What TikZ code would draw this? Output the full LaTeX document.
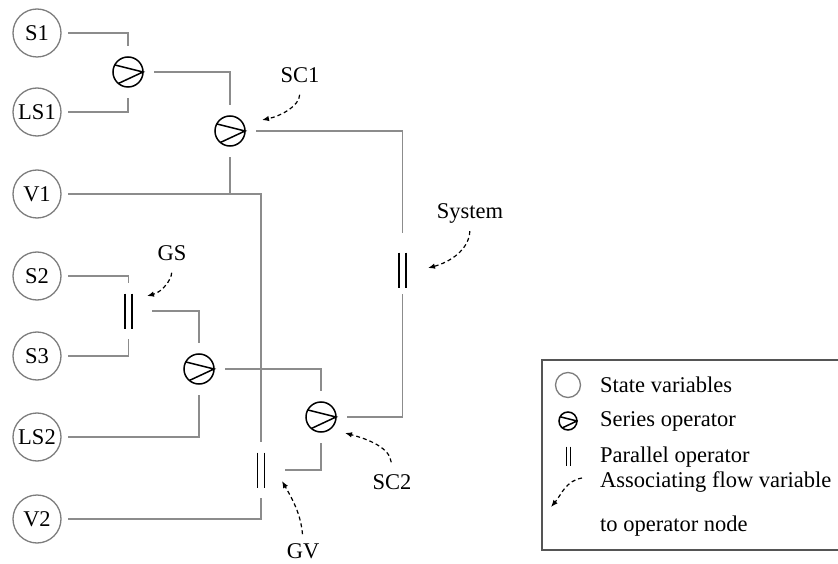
\documentclass[tikz,border=0pt]{standalone}
\usepackage{fontspec}
\setmainfont{Liberation Serif}
\usetikzlibrary{calc,arrows.meta}
\definecolor{conn}{RGB}{140,140,140}
\definecolor{stategray}{RGB}{125,125,125}
\definecolor{boxgray}{RGB}{85,85,85}
\newcommand\opchevron[1]{%
  \draw[opline] (path picture bounding box.center) circle[radius=#1];
  \draw[opline] ($(path picture bounding box.center)+(152:#1)$) -- ($(path picture bounding box.center)+(0:#1)$) -- ($(path picture bounding box.center)+(230:#1)$);}
\newcommand\opbars[2]{%
  \draw[barline] ($(path picture bounding box.center)+(-#1,#2)$) -- ($(path picture bounding box.center)+(-#1,-#2)$);
  \draw[barline] ($(path picture bounding box.center)+(#1,#2)$) -- ($(path picture bounding box.center)+(#1,-#2)$);}
\tikzset{
  every node/.style={font=\fontsize{22.5pt}{27pt}\selectfont},
  opline/.style={draw=black, line width=1.5pt},
  barline/.style={draw=black, line width=1.5pt},
  state/.style={circle, draw=stategray, line width=1.3pt, minimum size=48pt, inner sep=1pt, outer sep=7pt},
  serop/.style={circle, inner sep=0pt, minimum size=52pt, path picture={\opchevron{15pt}}},
  parop/.style={rectangle, inner sep=0pt, minimum width=47pt, minimum height=55pt, path picture={\opbars{3.5pt}{17.5pt}}},
  wire/.style={draw=conn, line width=1.2pt},
  flow/.style={draw=black, line width=1.2pt, dash pattern=on 4pt off 3pt, -{Latex[length=7pt,width=5.5pt]}, shorten <=9pt},
  oplabel/.style={inner sep=3pt},
  legstate/.style={circle, draw=stategray, line width=1.3pt, minimum size=25pt, inner sep=0pt},
  legser/.style={circle, inner sep=0pt, minimum size=20pt, path picture={\opchevron{9pt}}},
  legpar/.style={rectangle, inner sep=0pt, minimum width=10pt, minimum height=22pt, path picture={\opbars{2pt}{9.5pt}}},
  legtext/.style={anchor=west, inner sep=0pt},
  legbox/.style={draw=boxgray, line width=1.2pt}
}
\begin{document}
\begin{tikzpicture}[x=1pt, y=1pt]
\useasboundingbox (0,0) rectangle (838,-564);
% state variables
\node[state] (S1)  at (37,-33)  {S1};
\node[state] (LS1) at (37,-112) {LS1};
\node[state] (V1)  at (37,-194) {V1};
\node[state] (S2)  at (37,-276) {S2};
\node[state] (S3)  at (37,-356) {S3};
\node[state] (LS2) at (37,-437) {LS2};
\node[state] (V2)  at (37,-519) {V2};
% operators
\node[serop] (op1) at (128,-72)  {};
\node[serop] (SC1) at (230,-131) {};
\node[serop] (ser2) at (199,-369) {};
\node[serop] (SC2) at (321,-417) {};
\node[parop] (GS)  at (128.5,-311) {};
\node[parop] (Sys) at (402.5,-270) {};
\node[parop] (GV)  at (261,-470) {};
% connectors
\draw[wire] (S1) -| (op1);
\draw[wire] (LS1) -| (op1);
\draw[wire] (op1) -| (SC1);
\draw[wire] (SC1) -- (SC1 |- V1);
\draw[wire] (V1) -| (GV);
\draw[wire, shorten >=9pt] (SC1) -| (Sys);
\draw[wire, shorten >=-4pt] (SC2) -| (Sys);
\draw[wire] (S2) -| (GS);
\draw[wire] (S3) -| (GS);
\draw[wire] (GS) -| (ser2);
\draw[wire] (LS2) -| (ser2);
\draw[wire] (ser2) -| (SC2);
\draw[wire] (SC2) |- (GV);
\draw[wire] (V2) -| (GV);
% labels and flow-variable arrows
\node[oplabel] (lSC1) at (300,-75)  {SC1};
\node[oplabel] (lSys) at (470,-213) {System};
\node[oplabel] (lGS)  at (172,-253) {GS};
\node[oplabel] (lSC2) at (392,-482) {SC2};
\node[oplabel] (lGV)  at (303,-551) {GV};
\coordinate (tSC1) at (262,-120);
\coordinate (tSys) at (428,-268);
\coordinate (tGS)  at (147,-296);
\coordinate (tSC2) at (345,-433);
\coordinate (tGV)  at (282,-481);
\draw[flow] (lSC1.south) to[out=-92, in=12] (tSC1);
\draw[flow, shorten <=5pt] (lSys.south) to[out=-92, in=15] (tSys);
\draw[flow] (lGS.south) to[out=-92, in=15] (tGS);
\draw[flow] (lSC2.north) to[out=95, in=-15] (tSC2);
\draw[flow, shorten <=6pt] (lGV.north) to[out=95, in=-60] (tGV);
% legend
\draw[legbox] (838,-360) -- (542,-360) -- (542,-550) -- (838,-550);
\node[legstate] (kState) at (568,-385) {};
\node[legser]   (kSer)   at (568,-421) {};
\node[legpar]   (kPar)   at (568.5,-456) {};
\coordinate (kA1) at (582,-478);
\coordinate (kA2) at (551,-507);
\draw[flow, shorten <=0pt] (kA1) to[out=190, in=50] (kA2);
\node[legtext] (tState) at (600,-385) {State variables};
\node[legtext] (tSer)   at (600,-421) {Series operator};
\node[legtext] (tPar)   at (600,-457) {Parallel operator};
\node[legtext] (tFlow1) at (600,-482) {Associating flow variable};
\node[legtext] (tFlow2) at (600,-526) {to operator node};
\end{tikzpicture}
\end{document}
